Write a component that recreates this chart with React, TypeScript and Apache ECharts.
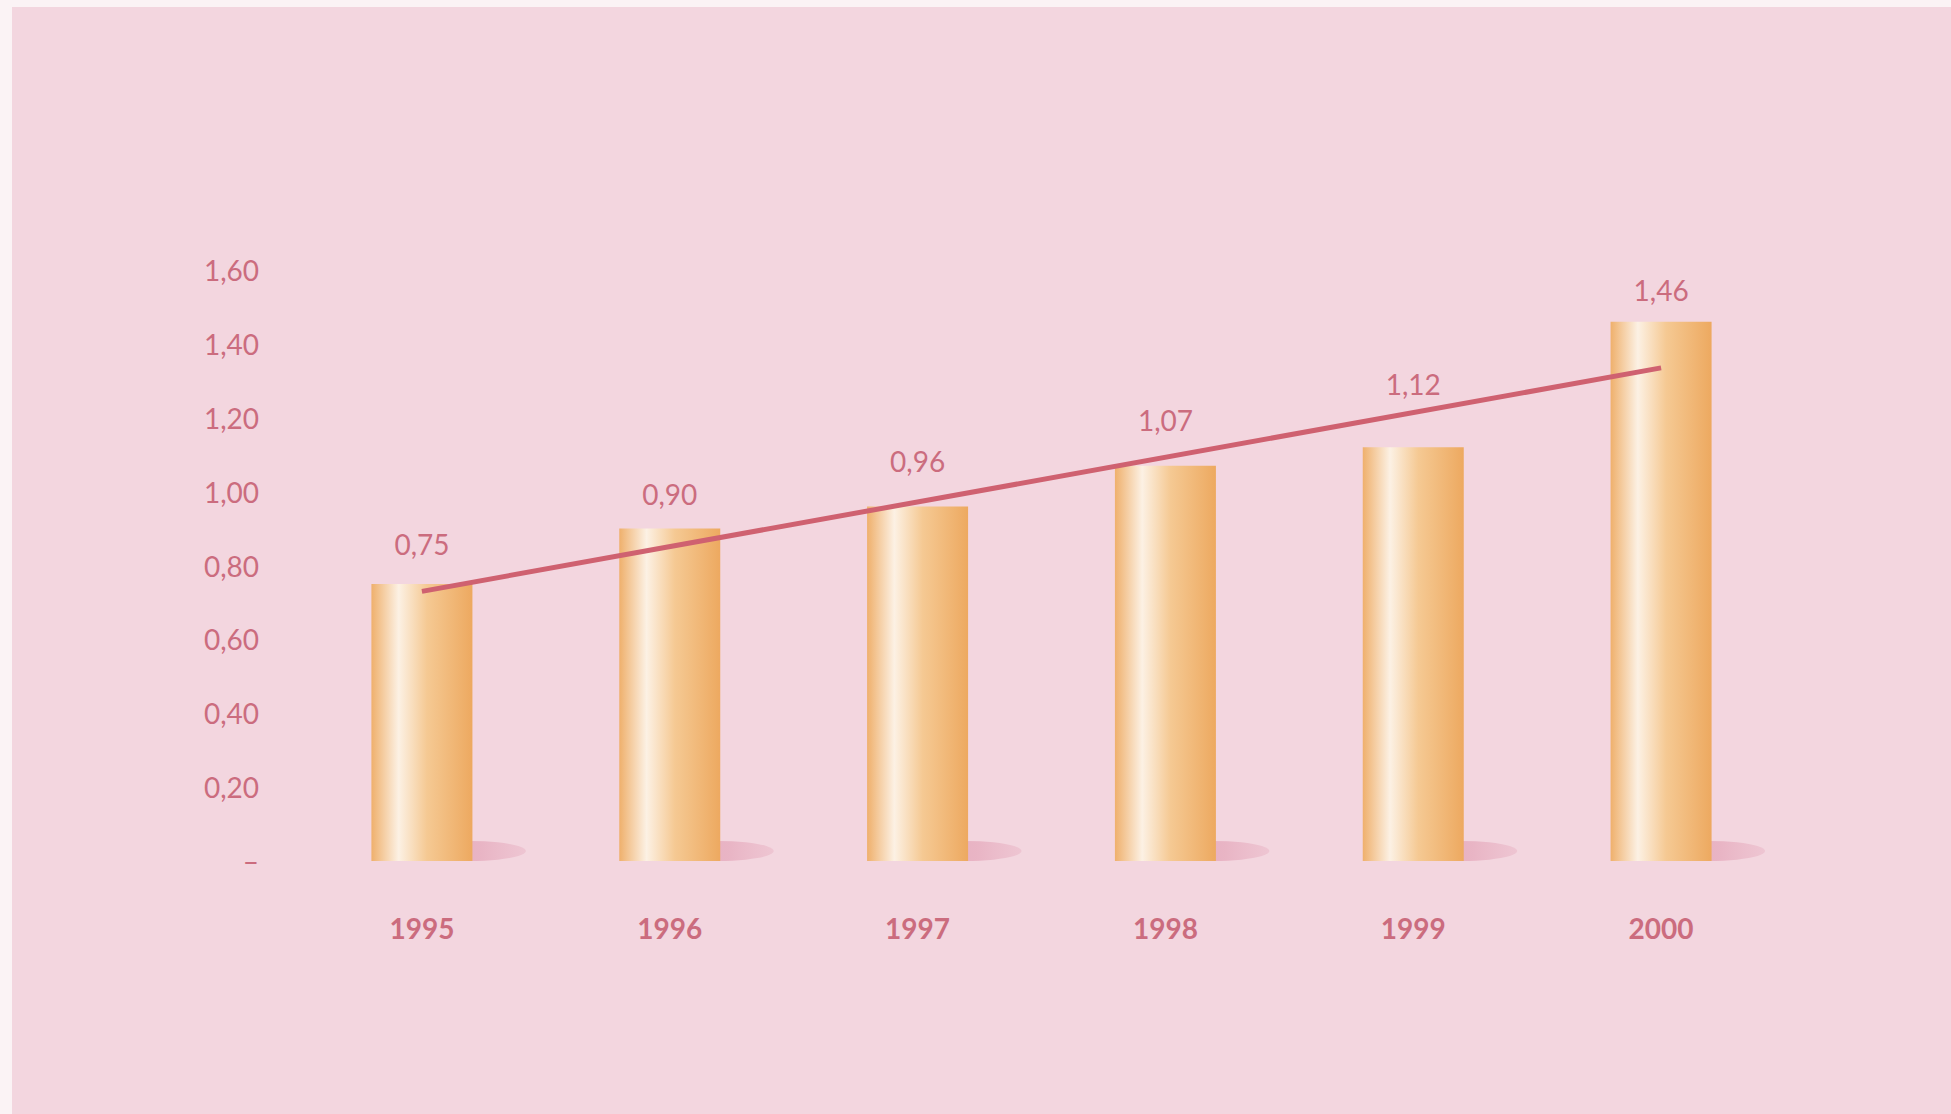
import React, { useEffect, useRef } from "react";
import * as echarts from "echarts";

const years = ["1995", "1996", "1997", "1998", "1999", "2000"];
const values = [0.75, 0.9, 0.96, 1.07, 1.12, 1.46];
const trendLine = [0.73, null, null, null, null, 1.335];
const shadowBase = [0, 0, 0, 0, 0, 0];

const PINK_TEXT = "#cb6c7e";
// per-bar label gap above the bar top (style only)
const labelGap = [26, 21, 31, 32, 49, 18];

function fmt(v: number): string {
  if (v === 0) return "–";
  return v.toFixed(2).replace(".", ",");
}

export default function App() {
  const ref = useRef<HTMLDivElement>(null);
  useEffect(() => {
    if (!ref.current) return;
    const chart = echarts.init(ref.current, null, { renderer: "svg" });
    chart.setOption({
      animation: false,
      backgroundColor: "#f3d6df",
      grid: { left: 286, right: 166, top: 263, bottom: 253 },
      xAxis: {
        type: "category",
        data: years,
        axisLine: { show: false },
        axisTick: { show: false },
        axisLabel: {
          margin: 53,
          color: PINK_TEXT,
          fontSize: 28,
          fontWeight: "bold",
          fontFamily: "Lato",
        },
      },
      yAxis: {
        type: "value",
        min: 0,
        max: 1.6,
        interval: 0.2,
        splitLine: { show: false },
        axisLine: { show: false },
        axisTick: { show: false },
        axisLabel: {
          margin: 39,
          color: PINK_TEXT,
          fontSize: 28,
          fontFamily: "Lato",
          formatter: (v: number) => fmt(v),
        },
      },
      series: [
        {
          type: "scatter",
          data: shadowBase,
          symbol: "circle",
          symbolSize: [112, 20],
          symbolOffset: [48, -10],
          z: 1,
          silent: true,
          itemStyle: {
            color: new echarts.graphic.LinearGradient(0, 0, 1, 0, [
              { offset: 0, color: "#e2a2b6" },
              { offset: 0.6, color: "#e6acbe" },
              { offset: 1, color: "rgba(234,184,200,0.7)" },
            ]),
          },
        },
        {
          type: "bar",
          data: values.map((v, i) => ({
            value: v,
            label: { distance: labelGap[i] },
          })),
          barWidth: 101,
          z: 2,
          itemStyle: {
            color: new echarts.graphic.LinearGradient(0, 0, 1, 0, [
              { offset: 0, color: "#efb06c" },
              { offset: 0.27, color: "#fcf1e4" },
              { offset: 0.55, color: "#f5c993" },
              { offset: 1, color: "#eda960" },
            ]),
          },
          label: {
            show: true,
            position: "top",
            color: PINK_TEXT,
            fontSize: 28,
            fontFamily: "Lato",
            formatter: (p: any) => fmt(p.value),
          },
        },
        {
          type: "line",
          data: trendLine,
          connectNulls: true,
          symbol: "none",
          z: 3,
          lineStyle: { color: "#cf6170", width: 5 },
        },
      ],
    });
    return () => chart.dispose();
  }, []);
  return (
    <div
      style={{
        position: "fixed",
        left: 0,
        top: 0,
        width: 1951,
        height: 1114,
        background: "#fbf3f5",
      }}
    >
      <div
        ref={ref}
        style={{ position: "absolute", left: 12, top: 7, width: 1939, height: 1107 }}
      />
    </div>
  );
}
